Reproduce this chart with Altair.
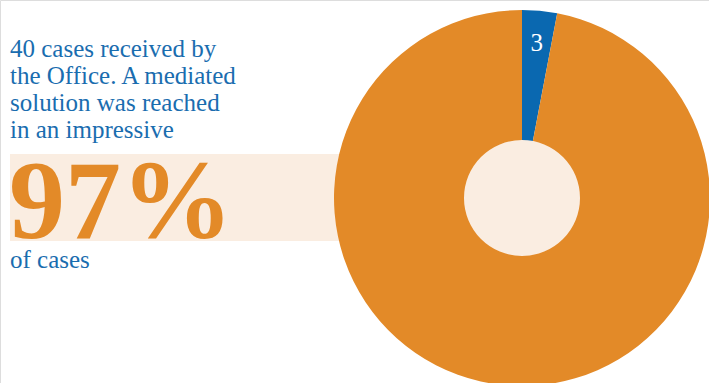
import altair as alt
import pandas as pd

categories = ["Not mediated", "Mediated"]
values = [3, 97]
labels = ["3", ""]
intro_lines = ["40 cases received by", "the Office. A mediated", "solution was reached", "in an impressive"]
big_text = "97%"
outro_text = "of cases"

BLUE = "#0A68B0"
ORANGE = "#E38A28"
BEIGE = "#FAEDE1"
TEXT_BLUE = "#1A6DAF"
FONT = "Liberation Serif"

df = pd.DataFrame({"category": categories, "value": values, "label": labels, "order": [0, 1]})

W, H = 709, 383
CX, CY = 522, 198
R, R_IN = 188, 58

band = alt.Chart(pd.DataFrame({"a": [0]})).mark_rect(color=BEIGE).encode(
    x=alt.value(10), x2=alt.value(CX), y=alt.value(154), y2=alt.value(241)
)

pie = alt.Chart(df).mark_arc(outerRadius=R, innerRadius=0, stroke=None).encode(
    theta=alt.Theta("value:Q", stack=True),
    color=alt.Color("category:N", scale=alt.Scale(domain=categories, range=[BLUE, ORANGE]), legend=None),
    order=alt.Order("order:Q"),
    x=alt.value(CX), y=alt.value(CY),
)

hole = alt.Chart(pd.DataFrame({"a": [0]})).mark_arc(outerRadius=R_IN, innerRadius=0, color=BEIGE).encode(
    theta=alt.value(6.2832), x=alt.value(CX), y=alt.value(CY)
)

slice_label = alt.Chart(df).mark_text(radius=156, font=FONT, fontSize=25, color="white", baseline="middle").encode(
    theta=alt.Theta("value:Q", stack=True),
    order=alt.Order("order:Q"),
    text="label:N",
    x=alt.value(CX), y=alt.value(CY),
)

intro = alt.Chart(pd.DataFrame({"a": [0]})).mark_text(
    text=intro_lines, font=FONT, fontSize=25, color=TEXT_BLUE, align="left", baseline="alphabetic", lineHeight=27
).encode(x=alt.value(10), y=alt.value(57))

big = alt.Chart(pd.DataFrame({"a": [0]})).mark_text(
    text=big_text, font=FONT, fontSize=112, fontWeight="bold", color=ORANGE, align="left", baseline="alphabetic"
).encode(x=alt.value(9), y=alt.value(238))

outro = alt.Chart(pd.DataFrame({"a": [0]})).mark_text(
    text=outro_text, font=FONT, fontSize=25, color=TEXT_BLUE, align="left", baseline="alphabetic"
).encode(x=alt.value(10), y=alt.value(268))

chart = alt.layer(band, pie, hole, slice_label, intro, big, outro).properties(
    width=W, height=H, padding=0, autosize=alt.AutoSizeParams(type="none")
).configure_view(stroke=None).configure(background="white")

chart.save("out.html", embed_options={"renderer": "svg", "actions": False})
